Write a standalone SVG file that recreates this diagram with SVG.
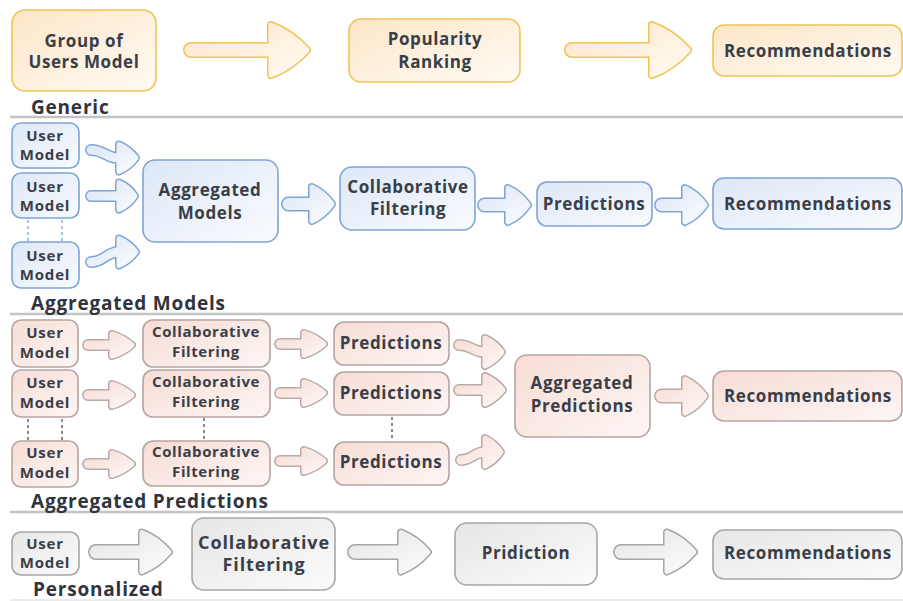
<svg xmlns="http://www.w3.org/2000/svg" xmlns:xlink="http://www.w3.org/1999/xlink" width="903" height="601" viewBox="0 0 903 601">
  <defs>
    <!-- fills per colour family -->
    <linearGradient id="gOr" x1="0" y1="0" x2="1" y2="1">
      <stop offset="0" stop-color="#fde6c8"/>
      <stop offset="1" stop-color="#fffaf3"/>
    </linearGradient>
    <linearGradient id="gBl" x1="0" y1="0" x2="1" y2="1">
      <stop offset="0" stop-color="#dde7f6"/>
      <stop offset="1" stop-color="#f9fbfe"/>
    </linearGradient>
    <linearGradient id="gPk" x1="0" y1="0" x2="1" y2="1">
      <stop offset="0" stop-color="#f7dcd5"/>
      <stop offset="1" stop-color="#fdf6f4"/>
    </linearGradient>
    <linearGradient id="gGy" x1="0" y1="0" x2="1" y2="1">
      <stop offset="0" stop-color="#e6e6e6"/>
      <stop offset="1" stop-color="#fbfbfb"/>
    </linearGradient>

    <!-- block arrow shapes, tail at x=0, centred on y=0; heads have slightly convex sides -->
    <path id="arA" d="M8,-4 L88,-4 L88,-25 Q109,-17 124,0 Q109,17 88,25 L88,4 L8,4 A4,4 0 0 1 8,-4 Z"/>
    <path id="arB" d="M7.5,-3.5 L31,-3.5 L31,-17 Q43.3,-11.2 51,0 Q43.3,11.2 31,17 L31,3.5 L7.5,3.5 A3.5,3.5 0 0 1 7.5,-3.5 Z"/>
    <path id="arC" d="M6,-2 L30,-2 L30,-11 Q41.2,-7.7 50,0 Q41.2,7.7 30,11 L30,2 L6,2 A2,2 0 0 1 6,-2 Z"/>
    <path id="arD" d="M8,-4 L54,-4 L54,-19.5 Q69.9,-13 81,0 Q69.9,13 54,19.5 L54,4 L8,4 A4,4 0 0 1 8,-4 Z"/>
    <!-- bent arrows feeding the aggregation boxes -->
    <path id="arM1" d="M91,148 C105,148 105,156 119,156 L119,144.5 Q129.4,148.9 136,158 Q129.4,167.1 119,171.5 L119,160 C105,160 105,152 91,152 A2,2 0 0 1 91,148 Z"/>
    <path id="arM2" d="M91,194 L119,194 L119,182.5 Q129,187 135,196 Q129,205 119,209.5 L119,198 L91,198 A2,2 0 0 1 91,194 Z"/>
    <path id="arM3" d="M91,260 C105,260 105,250 119,250 L119,238.5 Q129.4,242.9 136,252 Q129.4,261.1 119,265.5 L119,254 C105,254 105,264 91,264 A2,2 0 0 1 91,260 Z"/>
    <path id="arP1" d="M459,343 C472,343 472,350 485,350 L485,338 Q495.4,342.7 502,352 Q495.4,361.3 485,366 L485,354 C472,354 472,347 459,347 A2,2 0 0 1 459,343 Z"/>
    <path id="arP2" d="M459,388 L485,388 L485,376 Q495.8,380.6 503,390 Q495.8,399.4 485,404 L485,392 L459,392 A2,2 0 0 1 459,388 Z"/>
    <path id="arP3" d="M461,458 C473,458 473,450 485,450 L485,438 Q495,442.7 501,452 Q495,461.3 485,466 L485,454 C473,454 473,462 461,462 A2,2 0 0 1 461,458 Z"/>
  </defs>

  <style>
    text { font-family: "Open Sans", "Liberation Sans", sans-serif; font-weight: 700; fill: #3a3e48; text-anchor: middle; }
    .lbl { text-anchor: start; font-size: 19px; letter-spacing: 0.8px; fill: #30343c; }
    .t17 { font-size: 17px; letter-spacing: 0.6px; }
    .t15 { font-size: 15px; letter-spacing: 0.8px; }
    .t15c { font-size: 15px; letter-spacing: 0.6px; }
    .t18 { font-size: 18px; letter-spacing: 0.9px; }
    rect { stroke-width: 1.6; }
    .or rect { fill: url(#gOr); stroke: #f0c355; }
    .bl rect { fill: url(#gBl); stroke: #7fa4d4; }
    .pk rect { fill: url(#gPk); stroke: #b6a4a0; }
    .gy rect { fill: url(#gGy); stroke: #a6a6a6; }
    .sep { stroke: #c4c4c4; stroke-width: 2.5; }
    .dotB { stroke: #a9c3e6; stroke-width: 2; stroke-dasharray: 3 3; }
    .dotG { stroke: #8a8a8a; stroke-width: 2; stroke-dasharray: 3 3; }
    use { stroke-linejoin: round; }
    .o { stroke-width: 8; }
    .i { stroke-width: 5; }
    .o.or { fill: #f0c355; stroke: #f0c355; }
    .i.or { fill: url(#gOr); stroke: url(#gOr); }
    .o.bl { fill: #7fa4d4; stroke: #7fa4d4; }
    .i.bl { fill: url(#gBl); stroke: url(#gBl); }
    .o.pk { fill: #b9aaa8; stroke: #b9aaa8; }
    .i.pk { fill: url(#gPk); stroke: url(#gPk); }
    .o.gy { fill: #a6a6a6; stroke: #a6a6a6; }
    .i.gy { fill: url(#gGy); stroke: url(#gGy); }
  </style>

  <rect x="0" y="0" width="903" height="601" fill="#ffffff" stroke="none"/>

  <!-- section dividers and captions -->
  <g id="sections">
    <line class="sep" x1="10" y1="117" x2="903" y2="117"/>
    <line class="sep" x1="10" y1="314" x2="903" y2="314"/>
    <line class="sep" x1="10" y1="512" x2="903" y2="512"/>
    <line x1="10" y1="600" x2="903" y2="600" stroke="#e4e4e4" stroke-width="1.5"/>
    <text class="lbl" x="31" y="114">Generic</text>
    <text class="lbl" x="31" y="310">Aggregated Models</text>
    <text class="lbl" x="31" y="508">Aggregated Predictions</text>
    <text class="lbl" x="33" y="596">Personalized</text>
  </g>

  <!-- connectors -->
  <g id="connectors">
    <use class="o or" xlink:href="#arA" transform="translate(183,50)"/>
    <use class="i or" xlink:href="#arA" transform="translate(183,50)"/>
    <use class="o or" xlink:href="#arA" transform="translate(564,50)"/>
    <use class="i or" xlink:href="#arA" transform="translate(564,50)"/>

    <use class="o bl" xlink:href="#arM1"/><use class="i bl" xlink:href="#arM1"/>
    <use class="o bl" xlink:href="#arM2"/><use class="i bl" xlink:href="#arM2"/>
    <use class="o bl" xlink:href="#arM3"/><use class="i bl" xlink:href="#arM3"/>
    <use class="o bl" xlink:href="#arB" transform="translate(281,204)"/>
    <use class="i bl" xlink:href="#arB" transform="translate(281,204)"/>
    <use class="o bl" xlink:href="#arB" transform="translate(477,205)"/>
    <use class="i bl" xlink:href="#arB" transform="translate(477,205)"/>
    <use class="o bl" xlink:href="#arB" transform="translate(654,205)"/>
    <use class="i bl" xlink:href="#arB" transform="translate(654,205)"/>
    <line class="dotB" x1="28" y1="220" x2="28" y2="242"/>
    <line class="dotB" x1="62" y1="220" x2="62" y2="242"/>

    <use class="o pk" xlink:href="#arC" transform="translate(82,345)"/>
    <use class="i pk" xlink:href="#arC" transform="translate(82,345)"/>
    <use class="o pk" xlink:href="#arC" transform="translate(82,395)"/>
    <use class="i pk" xlink:href="#arC" transform="translate(82,395)"/>
    <use class="o pk" xlink:href="#arC" transform="translate(82,464)"/>
    <use class="i pk" xlink:href="#arC" transform="translate(82,464)"/>
    <use class="o pk" xlink:href="#arC" transform="translate(274,344)"/>
    <use class="i pk" xlink:href="#arC" transform="translate(274,344)"/>
    <use class="o pk" xlink:href="#arC" transform="translate(274,393)"/>
    <use class="i pk" xlink:href="#arC" transform="translate(274,393)"/>
    <use class="o pk" xlink:href="#arC" transform="translate(274,461)"/>
    <use class="i pk" xlink:href="#arC" transform="translate(274,461)"/>
    <use class="o pk" xlink:href="#arP1"/><use class="i pk" xlink:href="#arP1"/>
    <use class="o pk" xlink:href="#arP2"/><use class="i pk" xlink:href="#arP2"/>
    <use class="o pk" xlink:href="#arP3"/><use class="i pk" xlink:href="#arP3"/>
    <use class="o pk" xlink:href="#arB" transform="translate(654,396)"/>
    <use class="i pk" xlink:href="#arB" transform="translate(654,396)"/>
    <line class="dotG" x1="28" y1="419" x2="28" y2="441"/>
    <line class="dotG" x1="62" y1="419" x2="62" y2="441"/>
    <line class="dotG" x1="204" y1="418" x2="204" y2="439"/>
    <line class="dotG" x1="392" y1="417" x2="392" y2="440"/>

    <use class="o gy" xlink:href="#arD" transform="translate(88,552)"/>
    <use class="i gy" xlink:href="#arD" transform="translate(88,552)"/>
    <use class="o gy" xlink:href="#arD" transform="translate(347,552)"/>
    <use class="i gy" xlink:href="#arD" transform="translate(347,552)"/>
    <use class="o gy" xlink:href="#arD" transform="translate(613,552)"/>
    <use class="i gy" xlink:href="#arD" transform="translate(613,552)"/>
  </g>

  <!-- Generic -->
  <g id="gen-users" class="or">
    <rect x="12" y="10" width="144" height="81" rx="13"/>
    <text class="t17" x="84" y="47">Group of</text>
    <text class="t17" x="84" y="68">Users Model</text>
  </g>
  <g id="gen-popularity" class="or">
    <rect x="349" y="19" width="171" height="63" rx="12"/>
    <text class="t17" x="435" y="45">Popularity</text>
    <text class="t17" x="435" y="68">Ranking</text>
  </g>
  <g id="gen-recs" class="or">
    <rect x="713" y="25" width="189" height="51" rx="11"/>
    <text class="t17" x="808" y="57">Recommendations</text>
  </g>

  <!-- Aggregated Models -->
  <g id="am-user1" class="bl">
    <rect x="12" y="123" width="67" height="45" rx="9"/>
    <text class="t15" x="45" y="141">User</text>
    <text class="t15" x="45" y="160">Model</text>
  </g>
  <g id="am-user2" class="bl">
    <rect x="12" y="173" width="67" height="45" rx="9"/>
    <text class="t15" x="45" y="192">User</text>
    <text class="t15" x="45" y="211">Model</text>
  </g>
  <g id="am-user3" class="bl">
    <rect x="12" y="242" width="67" height="46" rx="9"/>
    <text class="t15" x="45" y="261">User</text>
    <text class="t15" x="45" y="280">Model</text>
  </g>
  <g id="am-aggregated" class="bl">
    <rect x="143" y="160" width="135" height="82" rx="12"/>
    <text class="t17" x="210" y="196">Aggregated</text>
    <text class="t17" x="210" y="219">Models</text>
  </g>
  <g id="am-cf" class="bl">
    <rect x="340" y="167" width="135" height="63" rx="12"/>
    <text class="t17" x="408" y="193">Collaborative</text>
    <text class="t17" x="408" y="215">Filtering</text>
  </g>
  <g id="am-pred" class="bl">
    <rect x="537" y="182" width="115" height="44" rx="10"/>
    <text class="t17" x="594" y="210">Predictions</text>
  </g>
  <g id="am-recs" class="bl">
    <rect x="713" y="178" width="189" height="51" rx="11"/>
    <text class="t17" x="808" y="210">Recommendations</text>
  </g>

  <!-- Aggregated Predictions -->
  <g id="ap-user1" class="pk">
    <rect x="12" y="320" width="66" height="47" rx="9"/>
    <text class="t15" x="45" y="338">User</text>
    <text class="t15" x="45" y="358">Model</text>
  </g>
  <g id="ap-user2" class="pk">
    <rect x="12" y="370" width="66" height="47" rx="9"/>
    <text class="t15" x="45" y="388">User</text>
    <text class="t15" x="45" y="408">Model</text>
  </g>
  <g id="ap-user3" class="pk">
    <rect x="12" y="441" width="66" height="46" rx="9"/>
    <text class="t15" x="45" y="458">User</text>
    <text class="t15" x="45" y="478">Model</text>
  </g>
  <g id="ap-cf1" class="pk">
    <rect x="143" y="320" width="127" height="47" rx="10"/>
    <text class="t15c" x="206" y="337">Collaborative</text>
    <text class="t15c" x="206" y="357">Filtering</text>
  </g>
  <g id="ap-cf2" class="pk">
    <rect x="143" y="370" width="127" height="47" rx="10"/>
    <text class="t15c" x="206" y="387">Collaborative</text>
    <text class="t15c" x="206" y="407">Filtering</text>
  </g>
  <g id="ap-cf3" class="pk">
    <rect x="143" y="441" width="127" height="45" rx="10"/>
    <text class="t15c" x="206" y="457">Collaborative</text>
    <text class="t15c" x="206" y="477">Filtering</text>
  </g>
  <g id="ap-pred1" class="pk">
    <rect x="334" y="322" width="115" height="43" rx="10"/>
    <text class="t17" x="391" y="349">Predictions</text>
  </g>
  <g id="ap-pred2" class="pk">
    <rect x="334" y="372" width="115" height="43" rx="10"/>
    <text class="t17" x="391" y="399">Predictions</text>
  </g>
  <g id="ap-pred3" class="pk">
    <rect x="334" y="442" width="115" height="43" rx="10"/>
    <text class="t17" x="391" y="468">Predictions</text>
  </g>
  <g id="ap-aggregated" class="pk">
    <rect x="515" y="355" width="135" height="82" rx="12"/>
    <text class="t17" x="582" y="389">Aggregated</text>
    <text class="t17" x="582" y="412">Predictions</text>
  </g>
  <g id="ap-recs" class="pk">
    <rect x="713" y="371" width="189" height="50" rx="11"/>
    <text class="t17" x="808" y="402">Recommendations</text>
  </g>

  <!-- Personalized -->
  <g id="pe-user" class="gy">
    <rect x="12" y="532" width="67" height="43" rx="9"/>
    <text class="t15" x="45" y="549">User</text>
    <text class="t15" x="45" y="568">Model</text>
  </g>
  <g id="pe-cf" class="gy">
    <rect x="192" y="518" width="143" height="72" rx="12"/>
    <text class="t18" x="264" y="549">Collaborative</text>
    <text class="t18" x="264" y="571">Filtering</text>
  </g>
  <g id="pe-pred" class="gy">
    <rect x="455" y="523" width="142" height="62" rx="12"/>
    <text class="t17" x="526" y="559">Pridiction</text>
  </g>
  <g id="pe-recs" class="gy">
    <rect x="713" y="530" width="189" height="49" rx="11"/>
    <text class="t17" x="808" y="559">Recommendations</text>
  </g>
</svg>
